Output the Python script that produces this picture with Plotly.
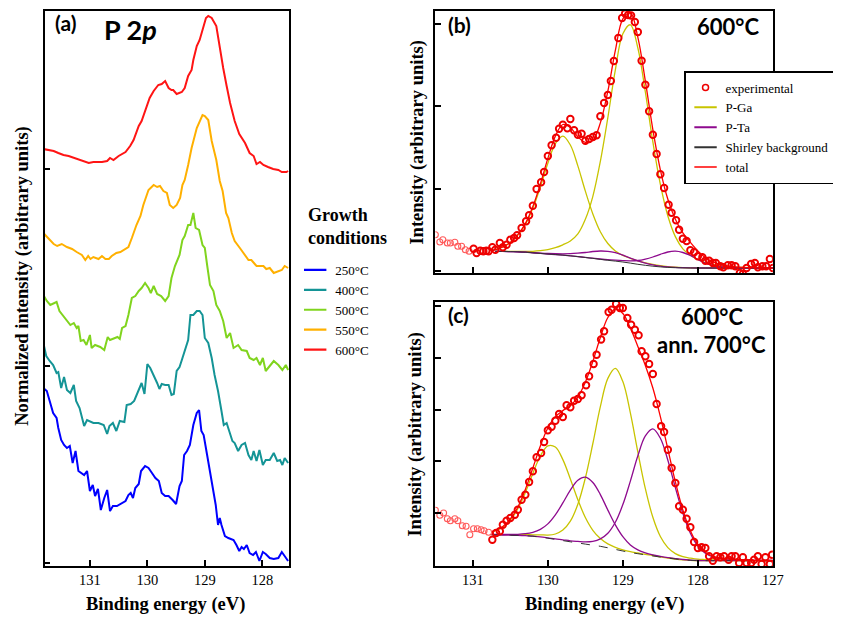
import plotly.graph_objects as go

# ---------------- Panel (a): P 2p spectra vs growth temperature ----------------
a_250_x = [131.81, 131.75, 131.70, 131.64, 131.58, 131.55, 131.50, 131.45, 131.40, 131.35, 131.30, 131.25, 131.20, 131.14, 131.10, 131.05, 131.00, 130.95, 130.91, 130.86, 130.81, 130.75, 130.70, 130.65, 130.60, 130.53, 130.46, 130.38, 130.33, 130.29, 130.25, 130.21, 130.15, 130.11, 130.04, 129.98, 129.92, 129.86, 129.80, 129.75, 129.69, 129.63, 129.56, 129.50, 129.44, 129.40, 129.36, 129.31, 129.26, 129.20, 129.14, 129.10, 129.06, 129.02, 128.96, 128.90, 128.85, 128.81, 128.77, 128.74, 128.71, 128.65, 128.59, 128.50, 128.45, 128.40, 128.36, 128.32, 128.27, 128.22, 128.16, 128.11, 128.05, 127.99, 127.94, 127.87, 127.80, 127.72, 127.66, 127.61, 127.55]
a_250_y = [175, 172, 162, 150, 145, 135, 123, 118, 115, 117, 100, 112, 92, 90, 88, 92, 72, 78, 67, 74, 53, 65, 73, 52, 57, 57, 59, 62, 68, 70, 65, 75, 79, 92, 97, 95, 90, 85, 82, 70, 67, 67, 63, 59, 77, 82, 108, 112, 118, 138, 150, 153, 132, 128, 108, 88, 75, 58, 38, 45, 38, 27, 25, 23, 18, 12, 16, 14, 18, 10, 8, 11, 2, 11, 9, 5, 4, 5, 11, 7, 2]

a_400_x = [131.81, 131.76, 131.70, 131.64, 131.58, 131.55, 131.50, 131.45, 131.40, 131.34, 131.28, 131.24, 131.18, 131.14, 131.10, 131.05, 130.99, 130.94, 130.85, 130.76, 130.70, 130.66, 130.60, 130.54, 130.48, 130.40, 130.36, 130.29, 130.23, 130.17, 130.10, 130.05, 130.00, 129.95, 129.89, 129.83, 129.79, 129.75, 129.69, 129.63, 129.58, 129.54, 129.49, 129.44, 129.40, 129.35, 129.29, 129.25, 129.20, 129.14, 129.09, 129.04, 129.00, 128.94, 128.88, 128.83, 128.77, 128.71, 128.67, 128.62, 128.57, 128.52, 128.48, 128.42, 128.36, 128.30, 128.24, 128.19, 128.15, 128.10, 128.05, 127.99, 127.94, 127.87, 127.80, 127.74, 127.69, 127.65, 127.61, 127.55]
a_400_y = [220, 207, 202, 198, 190, 191, 175, 186, 173, 170, 178, 162, 155, 145, 137, 143, 141, 140, 140, 138, 129, 137, 140, 132, 142, 141, 158, 159, 162, 170, 180, 169, 199, 195, 188, 180, 174, 179, 178, 178, 168, 169, 192, 196, 203, 212, 223, 248, 248, 252, 252, 248, 225, 220, 205, 188, 172, 152, 138, 140, 132, 122, 120, 112, 118, 120, 108, 103, 112, 102, 113, 98, 103, 103, 110, 102, 103, 98, 105, 100]

a_500_x = [131.81, 131.75, 131.69, 131.63, 131.58, 131.53, 131.46, 131.40, 131.34, 131.28, 131.23, 131.20, 131.16, 131.11, 131.06, 131.00, 130.97, 130.91, 130.82, 130.75, 130.69, 130.65, 130.58, 130.52, 130.48, 130.44, 130.38, 130.33, 130.27, 130.21, 130.15, 130.10, 130.04, 129.98, 129.94, 129.89, 129.83, 129.76, 129.69, 129.63, 129.58, 129.52, 129.44, 129.39, 129.35, 129.29, 129.25, 129.20, 129.16, 129.10, 129.04, 129.00, 128.96, 128.91, 128.85, 128.80, 128.74, 128.68, 128.62, 128.56, 128.50, 128.42, 128.36, 128.27, 128.22, 128.15, 128.10, 128.04, 127.99, 127.94, 127.87, 127.80, 127.72, 127.65, 127.59, 127.55]
a_500_y = [268, 262, 258, 260, 261, 252, 247, 242, 238, 240, 235, 237, 222, 223, 218, 228, 215, 218, 216, 213, 226, 223, 225, 226, 224, 235, 237, 248, 265, 267, 272, 275, 280, 275, 270, 277, 269, 267, 262, 267, 285, 297, 308, 323, 327, 338, 338, 350, 335, 333, 318, 315, 298, 278, 272, 258, 252, 242, 225, 230, 215, 218, 213, 212, 205, 203, 205, 198, 205, 192, 197, 202, 198, 193, 198, 193]

a_550_x = [131.81, 131.72, 131.63, 131.57, 131.49, 131.40, 131.31, 131.23, 131.14, 131.08, 131.03, 130.99, 130.94, 130.85, 130.79, 130.73, 130.67, 130.62, 130.54, 130.47, 130.38, 130.33, 130.27, 130.19, 130.12, 130.07, 129.98, 129.89, 129.83, 129.78, 129.72, 129.66, 129.61, 129.55, 129.49, 129.43, 129.39, 129.35, 129.29, 129.23, 129.14, 129.09, 129.04, 129.00, 128.94, 128.88, 128.80, 128.74, 128.69, 128.63, 128.59, 128.53, 128.48, 128.39, 128.30, 128.24, 128.19, 128.10, 128.01, 127.98, 127.93, 127.87, 127.80, 127.72, 127.66, 127.61, 127.55]
a_550_y = [330, 325, 319, 317, 319, 316, 314, 311, 308, 303, 307, 304, 306, 304, 307, 304, 304, 307, 310, 311, 314, 316, 325, 338, 347, 358, 373, 378, 376, 377, 372, 370, 358, 355, 358, 365, 378, 383, 398, 415, 435, 442, 448, 447, 443, 422, 403, 382, 372, 350, 345, 330, 322, 315, 308, 303, 303, 297, 297, 297, 294, 295, 290, 292, 293, 297, 295]

a_600_x = [131.81, 131.63, 131.55, 131.46, 131.37, 131.23, 131.11, 131.02, 130.94, 130.79, 130.70, 130.65, 130.59, 130.50, 130.38, 130.30, 130.24, 130.15, 130.10, 130.04, 129.96, 129.89, 129.81, 129.75, 129.69, 129.63, 129.58, 129.55, 129.49, 129.40, 129.35, 129.29, 129.23, 129.20, 129.14, 129.09, 129.03, 128.98, 128.94, 128.88, 128.80, 128.74, 128.68, 128.62, 128.56, 128.48, 128.40, 128.30, 128.22, 128.15, 128.10, 128.04, 127.98, 127.90, 127.81, 127.72, 127.66, 127.58, 127.55]
a_600_y = [414, 412, 410, 408, 407, 404, 402, 400, 401, 401, 402, 405, 403, 407, 411, 417, 423, 437, 442, 452, 465, 472, 478, 479, 482, 475, 473, 473, 469, 471, 475, 487, 493, 503, 517, 523, 535, 545, 547, 545, 537, 515, 495, 477, 460, 442, 429, 420, 410, 407, 399, 401, 398, 396, 394, 393, 391, 391, 392]

a_names = ["250°C", "400°C", "500°C", "550°C", "600°C"]
a_colors = ["#0000ff", "#149496", "#80d41e", "#ffb000", "#ff1414"]

# ---------------- Panel (b): 600°C fit ----------------
b_pre_x = [131.50, 131.44, 131.40, 131.34, 131.30, 131.24, 131.20, 131.15, 131.10, 131.05]
b_pre_y = [36.6, 29.3, 31.6, 28.3, 28.3, 29.0, 25.0, 25.0, 21.6, 20.0]
b_exp_x = [130.99, 130.95, 130.90, 130.86, 130.82, 130.79, 130.74, 130.70, 130.64, 130.60, 130.55, 130.50, 130.45, 130.41, 130.35, 130.29, 130.25, 130.20, 130.15, 130.09, 130.05, 130.00, 129.95, 129.89, 129.85, 129.80, 129.74, 129.70, 129.65, 129.60, 129.55, 129.50, 129.45, 129.40, 129.35, 129.30, 129.25, 129.20, 129.16, 129.12, 129.06, 129.01, 128.97, 128.93, 128.89, 128.84, 128.80, 128.75, 128.70, 128.65, 128.60, 128.55, 128.50, 128.45, 128.39, 128.35, 128.29, 128.25, 128.20, 128.15, 128.10, 128.05, 128.00, 127.94, 127.90, 127.85, 127.80, 127.76, 127.70, 127.66, 127.60, 127.55, 127.50, 127.44, 127.40, 127.35, 127.29, 127.24, 127.20, 127.14, 127.09, 127.04, 127.00]
b_exp_y = [22.6, 18.3, 20.6, 20.0, 20.6, 20.0, 24.0, 21.6, 28.3, 24.0, 26.6, 31.6, 33.3, 36.0, 43.3, 50.0, 56.0, 65.6, 82.3, 89.0, 99.3, 115.3, 126.0, 133.6, 142.6, 146.6, 143.0, 152.3, 141.0, 136.6, 137.6, 130.6, 132.3, 134.3, 136.0, 155.0, 168.3, 176.3, 190.3, 210.3, 233.3, 253.3, 257.8, 256.3, 255.8, 249.3, 239.3, 210.6, 186.6, 160.0, 136.6, 117.3, 97.0, 83.3, 66.6, 58.6, 51.0, 41.6, 32.6, 30.3, 21.0, 19.0, 15.0, 14.0, 10.6, 10.6, 8.3, 8.3, 5.0, 4.0, 6.0, 6.0, 5.0, -1.7, -2.7, 3.3, 7.3, 8.3, 4.0, 5.0, 5.0, 12.3, 3.3]

b_fit_x = [130.7, 130.6, 130.5, 130.4, 130.3, 130.2, 130.1, 130.0, 129.9, 129.8, 129.7, 129.6, 129.5, 129.4, 129.3, 129.2, 129.1, 129.0, 128.9, 128.8, 128.7, 128.6, 128.5, 128.4, 128.3, 128.2, 128.1, 128.0, 127.9, 127.8, 127.7, 127.6, 127.5, 127.4, 127.3, 127.2, 127.1, 127.0]
b_shirley = [20.0, 19.9, 19.7, 19.5, 19.1, 18.5, 17.9, 17.3, 16.8, 16.2, 15.5, 14.7, 13.8, 12.9, 11.9, 11.0, 10.2, 9.3, 8.2, 7.0, 6.0, 5.1, 4.4, 3.9, 3.6, 3.4, 3.3, 3.3, 3.3, 3.3, 3.3, 3.3, 3.3, 3.3, 3.3, 3.3, 3.3, 3.3]
b_pga_1 = [21.5, 24.4, 28.7, 36.3, 46.8, 63.0, 84.3, 108.0, 127.6, 135.2, 126.3, 105.4, 80.2, 57.4, 39.6, 27.8, 20.4, 16.0, 13.0, 10.4, 8.5, 6.9, 5.6, 4.7, 4.1, 3.7, 3.5, 3.4, 3.3, 3.3, 3.3, 3.3, 3.3, 3.3, 3.3, 3.3, 3.3, 3.3]
b_pga_2 = [20.0, 20.0, 19.9, 19.9, 19.9, 20.0, 20.6, 21.7, 23.6, 26.5, 30.3, 37.4, 52.0, 75.0, 109.9, 153.7, 201.4, 237.5, 246.5, 223.3, 179.3, 129.4, 86.9, 55.3, 34.7, 22.5, 16.0, 11.8, 8.8, 6.8, 5.5, 4.6, 4.1, 3.8, 3.6, 3.5, 3.4, 3.3]
b_pta_1 = [20.0, 19.9, 19.7, 19.5, 19.2, 18.7, 18.2, 17.8, 17.6, 17.5, 17.6, 18.1, 18.8, 19.8, 20.3, 20.0, 18.6, 16.2, 13.2, 10.4, 8.1, 6.4, 5.2, 4.4, 3.9, 3.6, 3.4, 3.3, 3.3, 3.3, 3.3, 3.3, 3.3, 3.3, 3.3, 3.3, 3.3, 3.3]
b_pta_2 = [20.0, 19.9, 19.7, 19.5, 19.1, 18.5, 17.9, 17.3, 16.8, 16.2, 15.5, 14.7, 13.9, 13.1, 12.3, 11.6, 11.1, 10.7, 10.5, 10.8, 12.2, 14.3, 17.0, 19.3, 20.1, 18.8, 15.9, 11.8, 8.1, 5.9, 4.6, 4.0, 3.6, 3.4, 3.3, 3.3, 3.3, 3.3]
b_total = [21.5, 24.5, 28.9, 36.7, 47.7, 64.7, 87.3, 112.9, 135.2, 146.8, 143.8, 134.5, 129.0, 131.0, 148.4, 180.1, 220.9, 252.5, 258.6, 233.9, 190.1, 141.7, 101.5, 72.0, 52.0, 38.4, 28.9, 20.4, 13.6, 9.4, 6.8, 5.3, 4.5, 4.0, 3.7, 3.5, 3.4, 3.3]

# ---------------- Panel (c): 600°C, annealed 700°C fit ----------------
c_pre_x = [131.50, 131.44, 131.39, 131.34, 131.30, 131.24, 131.20, 131.14, 131.09, 131.04, 130.99, 130.94, 130.89, 130.85, 130.79]
c_pre_y = [54.7, 49.7, 52.0, 46.3, 44.3, 46.3, 44.3, 39.3, 38.7, 30.3, 36.3, 36.3, 35.3, 34.3, 32.7]
c_exp_x = [130.74, 130.69, 130.64, 130.60, 130.55, 130.50, 130.44, 130.40, 130.35, 130.30, 130.25, 130.20, 130.15, 130.09, 130.05, 130.00, 129.95, 129.90, 129.85, 129.80, 129.75, 129.70, 129.65, 129.60, 129.55, 129.49, 129.45, 129.39, 129.35, 129.29, 129.25, 129.19, 129.15, 129.09, 129.04, 129.00, 128.94, 128.89, 128.84, 128.79, 128.75, 128.70, 128.65, 128.60, 128.55, 128.49, 128.45, 128.40, 128.35, 128.30, 128.25, 128.20, 128.15, 128.10, 128.05, 128.00, 127.95, 127.90, 127.85, 127.80, 127.75, 127.70, 127.65, 127.59, 127.55, 127.50, 127.45, 127.40, 127.35, 127.29, 127.25, 127.20, 127.15, 127.10, 127.04, 127.01]
c_exp_y = [25.3, 32.0, 33.7, 40.3, 44.3, 47.0, 50.3, 55.3, 65.3, 70.3, 83.0, 93.7, 107.7, 112.0, 123.0, 134.7, 138.3, 144.3, 151.0, 148.0, 159.7, 157.7, 164.3, 166.0, 169.7, 179.7, 188.7, 201.0, 210.3, 225.5, 233.7, 253.0, 255.3, 261.0, 257.0, 257.0, 247.0, 240.3, 235.3, 229.7, 213.7, 208.7, 201.0, 191.0, 161.0, 138.7, 133.0, 115.3, 97.0, 82.0, 58.7, 55.3, 46.3, 37.7, 23.0, 17.0, 17.7, 17.0, 8.7, 4.3, 8.7, 7.7, 8.7, 5.3, 8.7, 8.7, 2.0, 7.7, 2.0, 2.0, 5.3, 8.7, 1.0, 7.7, 1.0, 10.3]

c_fit_x = [130.75, 130.7, 130.6, 130.5, 130.4, 130.3, 130.2, 130.1, 130.0, 129.9, 129.8, 129.7, 129.6, 129.5, 129.4, 129.3, 129.2, 129.1, 129.0, 128.9, 128.8, 128.7, 128.6, 128.5, 128.4, 128.3, 128.2, 128.1, 128.0, 127.9, 127.8, 127.7, 127.6, 127.5, 127.4, 127.3, 127.2, 127.1, 127.0]
c_shirley = [30.3, 30.2, 30.0, 29.8, 29.6, 29.3, 28.8, 28.0, 26.8, 25.6, 24.4, 23.2, 22.1, 20.9, 19.8, 18.7, 17.2, 15.6, 14.0, 12.5, 11.3, 10.2, 9.1, 7.9, 6.9, 6.0, 5.2, 4.7, 4.4, 4.3, 4.3, 4.3, 4.3, 4.3, 4.3, 4.3, 4.3, 4.3, 4.3]
c_pga_1 = [33.1, 34.1, 37.7, 44.7, 56.2, 72.4, 91.6, 109.0, 119.2, 118.0, 105.4, 86.0, 65.2, 47.5, 34.7, 26.4, 21.1, 17.7, 15.2, 13.3, 12.0, 10.7, 9.5, 8.1, 7.0, 6.0, 5.2, 4.7, 4.4, 4.3, 4.3, 4.3, 4.3, 4.3, 4.3, 4.3, 4.3, 4.3, 4.3]
c_pga_2 = [30.3, 30.2, 30.4, 30.3, 30.3, 30.4, 30.2, 30.2, 29.9, 31.0, 34.9, 43.8, 60.7, 87.0, 121.5, 158.3, 186.6, 196.6, 183.4, 152.1, 113.0, 76.3, 47.7, 28.5, 17.4, 11.4, 8.3, 6.9, 5.8, 5.4, 5.0, 4.8, 4.7, 4.5, 4.4, 4.3, 4.3, 4.3, 4.3]
c_pta_1 = [30.6, 30.6, 30.5, 30.6, 30.7, 31.3, 32.7, 35.6, 41.1, 50.1, 62.1, 74.9, 84.8, 87.9, 82.5, 70.4, 54.9, 40.1, 28.3, 20.1, 15.2, 12.2, 10.2, 8.7, 7.4, 6.4, 5.5, 4.9, 4.5, 4.3, 4.3, 4.3, 4.3, 4.3, 4.3, 4.3, 4.3, 4.3, 4.3]
c_pta_2 = [30.3, 30.2, 30.0, 29.8, 29.6, 29.3, 28.8, 28.2, 27.2, 26.1, 25.2, 24.2, 23.6, 23.1, 23.6, 26.1, 31.7, 42.7, 60.4, 83.9, 109.2, 129.1, 136.1, 126.8, 104.8, 77.4, 51.6, 31.8, 18.9, 11.7, 8.1, 6.5, 5.8, 5.3, 5.1, 4.8, 4.7, 4.6, 4.5]
c_total = [33.4, 34.6, 38.6, 46.0, 58.0, 75.6, 97.0, 119.0, 137.0, 148.4, 154.4, 159.3, 168.0, 182.8, 203.5, 227.5, 247.5, 256.0, 251.5, 237.0, 218.5, 199.5, 177.0, 148.4, 115.9, 83.2, 55.0, 34.2, 20.4, 12.8, 8.8, 7.0, 6.2, 5.5, 5.2, 4.8, 4.7, 4.6, 4.5]

energy_ticks = [131, 130, 129, 128, 127]
legend_b_names = ["experimental", "P-Ga", "P-Ta", "Shirley background", "total"]

# ---------------- styling ----------------
SERIF = "Liberation Serif, Times New Roman, serif"
SANS = "Lato, Open Sans, sans-serif"
C_EXP = "#ee0000"
C_PRE = "#ff5a5a"
C_GA = "#c8c400"
C_TA = "#8e0a8e"
C_BG = "#333333"
C_TOT = "#ff0000"

fig = go.Figure()

# panel (a) curves
a_sets = [(a_250_x, a_250_y), (a_400_x, a_400_y), (a_500_x, a_500_y), (a_550_x, a_550_y), (a_600_x, a_600_y)]
for (xs, ys), nm, col in zip(a_sets, a_names, a_colors):
    fig.add_trace(go.Scatter(x=xs, y=ys, mode="lines", line=dict(color=col, width=2),
                             showlegend=False, xaxis="x", yaxis="y", hoverinfo="skip"))
for nm, col in zip(a_names, a_colors):
    fig.add_trace(go.Scatter(x=[None], y=[None], mode="markers", name=nm, legend="legend",
                             marker=dict(symbol="line-ew", size=16, line=dict(width=2.2, color=col)),
                             xaxis="x", yaxis="y"))

def add_fit(xax, yax, fx, comps, bg, total, pre_x, pre_y, ex, ey, bg_dash):
    for ys, col in comps:
        fig.add_trace(go.Scatter(x=fx, y=ys, mode="lines", line=dict(color=col, width=1.3, shape="spline"),
                                 showlegend=False, xaxis=xax, yaxis=yax, hoverinfo="skip"))
    fig.add_trace(go.Scatter(x=fx, y=bg, mode="lines", line=dict(color=C_BG, width=1, dash=bg_dash, shape="spline"),
                             showlegend=False, xaxis=xax, yaxis=yax, hoverinfo="skip"))
    fig.add_trace(go.Scatter(x=fx, y=total, mode="lines", line=dict(color=C_TOT, width=1.3, shape="spline"),
                             showlegend=False, xaxis=xax, yaxis=yax, hoverinfo="skip"))
    fig.add_trace(go.Scatter(x=pre_x, y=pre_y, mode="markers",
                             marker=dict(symbol="circle-open", size=6, color=C_PRE, line=dict(width=1.1, color=C_PRE)),
                             showlegend=False, xaxis=xax, yaxis=yax, hoverinfo="skip"))
    fig.add_trace(go.Scatter(x=ex, y=ey, mode="markers",
                             marker=dict(symbol="circle-open", size=6.5, color=C_EXP, line=dict(width=1.9, color=C_EXP)),
                             showlegend=False, xaxis=xax, yaxis=yax, hoverinfo="skip"))

add_fit("x2", "y2", b_fit_x,
        [(b_pga_1, C_GA), (b_pga_2, C_GA), (b_pta_1, C_TA), (b_pta_2, C_TA)],
        b_shirley, b_total, b_pre_x, b_pre_y, b_exp_x, b_exp_y, "solid")
add_fit("x3", "y3", c_fit_x,
        [(c_pga_1, C_GA), (c_pga_2, C_GA), (c_pta_1, C_TA), (c_pta_2, C_TA)],
        c_shirley, c_total, c_pre_x, c_pre_y, c_exp_x, c_exp_y, "dash")

fig.add_trace(go.Scatter(x=[None], y=[None], mode="markers", name=legend_b_names[0], legend="legend2",
                         marker=dict(symbol="circle-open", size=6, color=C_EXP, line=dict(width=1.5, color=C_EXP)),
                         xaxis="x2", yaxis="y2"))
for nm, col in zip(legend_b_names[1:], [C_GA, C_TA, C_BG, C_TOT]):
    fig.add_trace(go.Scatter(x=[None], y=[None], mode="markers", name=nm, legend="legend2",
                             marker=dict(symbol="line-ew", size=16, line=dict(width=2 if col != C_TOT else 1.5, color=col)),
                             xaxis="x2", yaxis="y2"))

W, H = 841, 619
def px(v):
    return v / W
def py(v):
    return (H - v) / H

axis_common = dict(showline=True, mirror=True, linecolor="black", linewidth=1.8, showgrid=False,
                   zeroline=False, ticks="inside", ticklen=6, tickwidth=1.5, tickcolor="black",
                   tickfont=dict(family=SERIF, size=14.5, color="black"))

fig.update_layout(
    width=W, height=H, margin=dict(l=0, r=0, t=0, b=0),
    paper_bgcolor="white", plot_bgcolor="white",
    xaxis=dict(domain=[px(37), px(285)], range=[131.79, 127.53], tickvals=energy_ticks[:4],
               anchor="y", ticklabelstandoff=0, **axis_common),
    yaxis=dict(domain=[py(558), py(3)], range=[-3, 552], tickvals=[0, 197, 394],
               showticklabels=False, anchor="x", **axis_common),
    xaxis2=dict(domain=[px(433), px(775)], range=[131.5, 127.0], tickvals=energy_ticks,
                showticklabels=False, anchor="y2", **axis_common),
    yaxis2=dict(domain=[py(265), py(3)], range=[-1.7, 260.3], tickvals=[0, 82.5, 165, 247.5],
                showticklabels=False, anchor="x2", **axis_common),
    xaxis3=dict(domain=[px(433), px(775)], range=[131.5, 127.0], tickvals=energy_ticks,
                anchor="y3", ticklabelstandoff=0, **axis_common),
    yaxis3=dict(domain=[py(558), py(294)], range=[-1, 263], tickvals=[0, 52, 104, 155, 207, 259],
                showticklabels=False, anchor="x3", **axis_common),
    legend=dict(x=px(291), y=py(247), xanchor="left", yanchor="top", bgcolor="rgba(0,0,0,0)",
                font=dict(family=SERIF, size=13, color="black"), itemsizing="trace", tracegroupgap=0),
    legend2=dict(x=px(685), y=py(63), xanchor="left", yanchor="top", bgcolor="white",
                 bordercolor="black", borderwidth=1.5,
                 font=dict(family=SERIF, size=13, color="black"), itemsizing="trace", tracegroupgap=0),
    showlegend=True,
)

ann = []
def add_text(text, x, y, size, family, bold=False, angle=0, xanchor="center", align="center"):
    ann.append(dict(text=("<b>%s</b>" % text) if bold else text, x=px(x), y=py(y), xref="paper", yref="paper",
                    showarrow=False, xanchor=xanchor, yanchor="middle", textangle=angle, align=align,
                    font=dict(family=family, size=size, color="black")))

add_text("(a)", 58, 15, 21, SANS, bold=True)
add_text("P 2<i>p</i>", 124, 22, 27, SANS, bold=True)
add_text("(b)", 457, 17, 21, SANS, bold=True)
add_text("600°C", 730, 18, 22, SANS, bold=True)
add_text("(c)", 456, 307, 21, SANS, bold=True)
add_text("600°C", 713, 308, 22, SANS, bold=True)
add_text("ann. 700°C", 713, 336, 22, SANS, bold=True)
add_text("Growth<br>conditions", 302, 218, 18, SERIF, bold=True, xanchor="left", align="left")
add_text("Binding energy (eV)", 160, 596, 18.5, SERIF, bold=True)
add_text("Binding energy (eV)", 604, 596, 18.5, SERIF, bold=True)
add_text("Normalized intensity (arbitrary units)", 14, 268, 18.5, SERIF, bold=True, angle=-90)
add_text("Intensity (arbitrary units)", 414, 134, 18.5, SERIF, bold=True, angle=-90)
add_text("Intensity (arbitrary units)", 412, 426, 18.5, SERIF, bold=True, angle=-90)
fig.update_layout(annotations=ann)

fig.write_html("out.html")
